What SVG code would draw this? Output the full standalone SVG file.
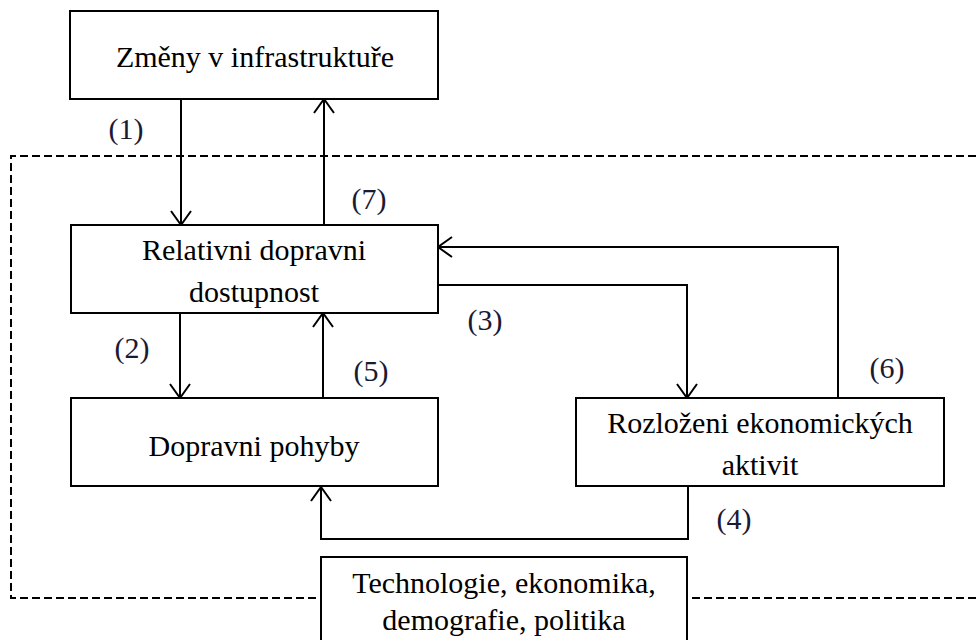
<svg xmlns="http://www.w3.org/2000/svg" width="976" height="640" viewBox="0 0 976 640">
<style>
.box{fill:#fff;stroke:#000;stroke-width:2}
.c{fill:none;stroke:#000;stroke-width:2}
.dash{fill:none;stroke:#000;stroke-width:2;stroke-dasharray:8 4}
.t{font-family:'Liberation Serif','Times New Roman',serif;font-size:30px;fill:#000;text-anchor:middle}
.lbl{font-family:'Liberation Serif','Times New Roman',serif;font-size:30px;fill:#1a1a33;text-anchor:middle}
</style>
<defs>
<marker id="arr" viewBox="0 0 16 22" markerWidth="16" markerHeight="22" refX="15" refY="11" orient="auto" markerUnits="userSpaceOnUse">
<path d="M1,1 L15,11 L1,21" fill="none" stroke="#000" stroke-width="2"/>
</marker>
</defs>
<rect width="976" height="640" fill="#fff"/>
<path class="dash" d="M976,156 L11,156 L11,598 L976,598"/>
<g id="connectors">
<path class="c" d="M181,99 L181,225" marker-end="url(#arr)"/>
<path class="c" d="M324,225 L324,99" marker-end="url(#arr)"/>
<path class="c" d="M180,313 L180,398" marker-end="url(#arr)"/>
<path class="c" d="M323,398 L323,313" marker-end="url(#arr)"/>
<path class="c" d="M438,285 L687,285 L687,398" marker-end="url(#arr)"/>
<path class="c" d="M838,398 L838,247 L438,247" marker-end="url(#arr)"/>
<path class="c" d="M688,487 L688,539 L321,539 L321,487" marker-end="url(#arr)"/>
</g>
<g id="labels">
<text class="lbl" x="126" y="139">(1)</text>
<text class="lbl" x="369" y="209">(7)</text>
<text class="lbl" x="132" y="358">(2)</text>
<text class="lbl" x="371" y="381">(5)</text>
<text class="lbl" x="485" y="330">(3)</text>
<text class="lbl" x="887" y="378">(6)</text>
<text class="lbl" x="734" y="529">(4)</text>
</g>
<g id="n1">
<rect class="box" x="70" y="11" width="368" height="88"/>
<text class="t" x="255" y="67">Změny v infrastruktuře</text>
</g>
<g id="n2">
<rect class="box" x="71" y="225" width="367" height="88"/>
<text class="t" x="254" y="260">Relativni dopravni</text>
<text class="t" x="254" y="302">dostupnost</text>
</g>
<g id="n3">
<rect class="box" x="71" y="398" width="367" height="88"/>
<text class="t" x="254" y="456">Dopravni pohyby</text>
</g>
<g id="n4">
<rect class="box" x="576" y="398" width="368" height="88"/>
<text class="t" x="760" y="433">Rozloženi ekonomických</text>
<text class="t" x="760" y="475">aktivit</text>
</g>
<g id="n5">
<rect class="box" x="321" y="557" width="366" height="100"/>
<text class="t" x="504" y="593">Technologie, ekonomika,</text>
<text class="t" x="504" y="630">demografie, politika</text>
</g>
</svg>
